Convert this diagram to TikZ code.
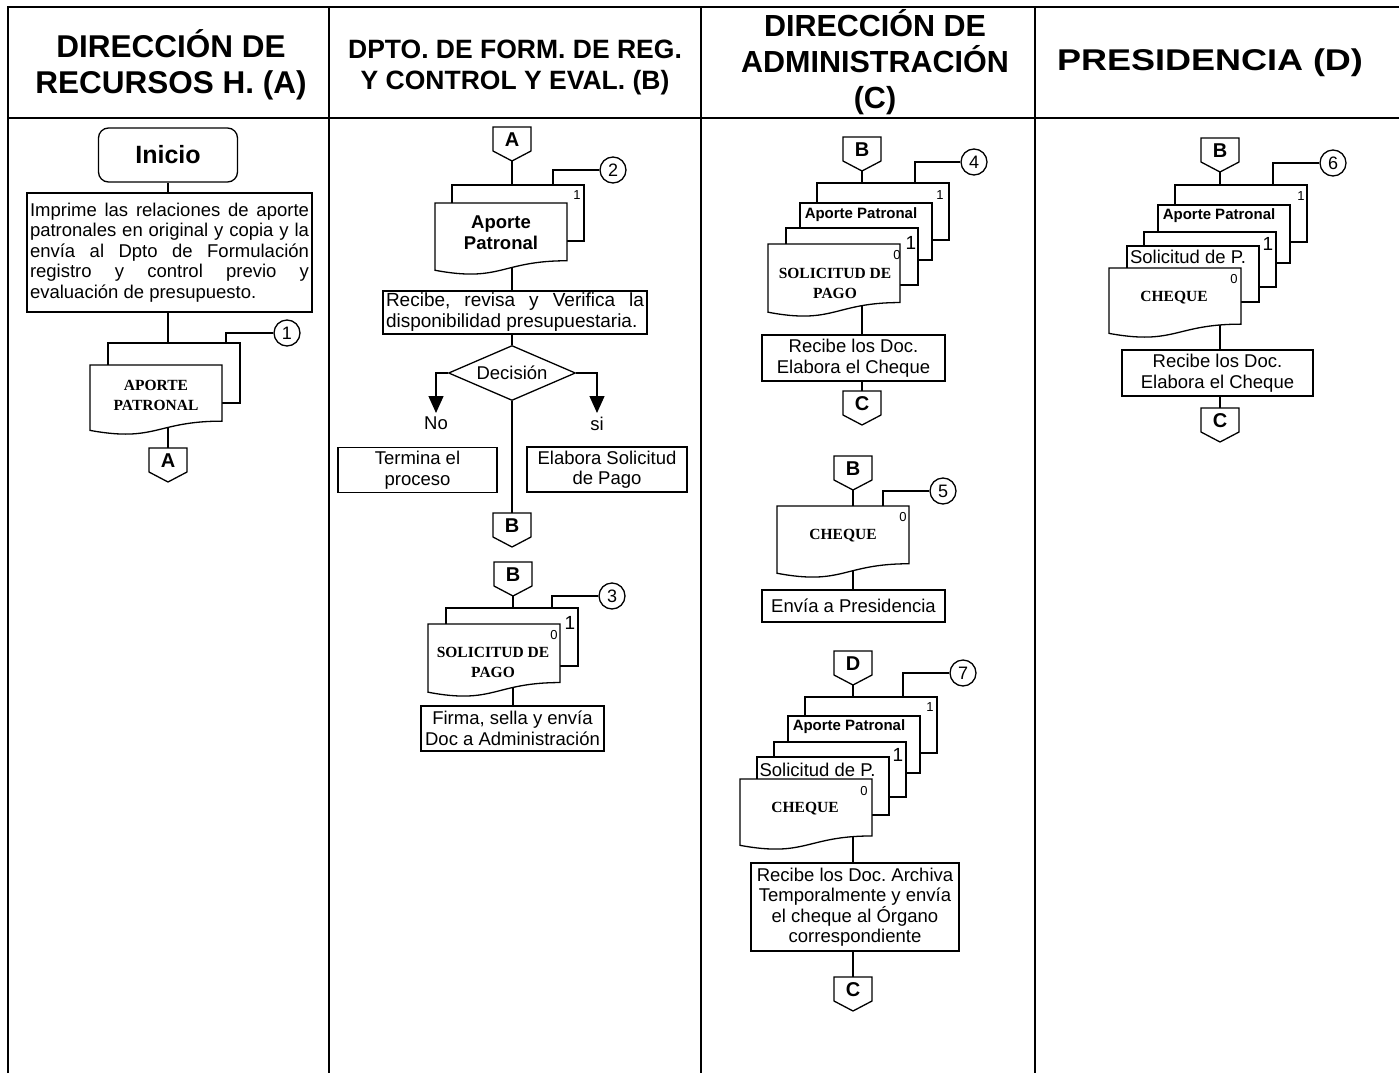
\documentclass[tikz,border=0pt]{standalone}
\usepackage{fontspec}
\setmainfont{Liberation Sans}
\newfontfamily\tnr{Liberation Serif}
\usetikzlibrary{shapes.geometric,arrows.meta,calc}
\pgfdeclarelayer{bg}
\pgfsetlayers{bg,main}
\frenchspacing
\newcommand\fz[2]{\fontsize{#1pt}{#2pt}\selectfont}
% off-page connector: name, x, ytop, letter
\newcommand\offpage[4]{%
  \draw[sl,fill=white] (#2-19,#3) -- (#2+19,#3) -- (#2+19,#3+24) -- (#2,#3+34) -- (#2-19,#3+24) -- cycle;
  \node[offtxt] (#1) at (#2,#3+12.5) {#4};
  \coordinate (#1-top) at (#2,#3);
  \coordinate (#1-tip) at (#2,#3+34);
}
% back document: name, x, y, h
\newcommand\backdoc[4]{%
  \node[bdoc, minimum height=#4pt] (#1) at (#2+66,#3+#4/2) {};
}
% front document with wavy bottom: name, x, y, h
\newcommand\frontdoc[4]{%
  \draw[sl,fill=white] (#2,#3) -- (#2+132,#3) -- (#2+132,#3+0.802*#4)
    .. controls (#2+66,#3+0.802*#4) and (#2+66,#3+1.107*#4) .. (#2,#3+0.934*#4) -- cycle;
  \node[fdoc, minimum height=#4pt] (#1) at (#2+66,#3+#4/2) {};
}
\begin{document}
\begin{tikzpicture}[x=1pt,y=-1pt,
  sl/.style={line width=1.3pt},
  tbl/.style={line width=2.8pt},
  box/.style={draw, sl, fill=white, inner sep=0pt, align=center, font=\fz{18.5}{20.5}},
  bdoc/.style={draw, sl, fill=white, inner sep=0pt, outer sep=0pt, minimum width=132pt},
  fdoc/.style={inner sep=0pt, outer sep=0pt, minimum width=132pt},
  offtxt/.style={font=\bfseries\fz{20}{22}, inner sep=0pt},
  circ/.style={draw, sl, circle, fill=white, minimum size=26pt, inner sep=0pt, font=\fz{18}{20}},
  numsm/.style={font=\fz{13}{14}, inner sep=0pt},
  numbig/.style={font=\fz{19}{20}, inner sep=0pt},
  serifb/.style={font=\tnr\bfseries\fz{15.5}{20}, align=center, inner sep=0pt},
  apb/.style={font=\bfseries\fz{15}{16}, inner sep=0pt},
  lbl/.style={font=\fz{18.5}{20}, inner sep=0pt},
  hdr/.style={font=\bfseries\fz{31.5}{36}, align=center, inner sep=0pt},
  arr/.style={sl, -{Triangle[width=15pt,length=17pt]}}
]
\useasboundingbox (0,0) rectangle (1399,1073);

% ---------- table ----------
\draw[tbl] (8,1073) -- (8,7) -- (1399,7);
\draw[tbl] (8,118) -- (1399,118);
\draw[tbl] (329,7) -- (329,1073);
\draw[tbl] (701,7) -- (701,1073);
\draw[tbl] (1035,7) -- (1035,1073);

\node[hdr] (hA) at (171,65) {DIRECCIÓN DE\\RECURSOS H. (A)};
\node[hdr, font=\bfseries\fz{26.5}{31}] (hB) at (515,67) {DPTO. DE FORM. DE REG.\\Y CONTROL Y EVAL. (B)};
\node[hdr, font=\bfseries\fz{30.5}{36}] (hC) at (875,62) {DIRECCIÓN DE\\ADMINISTRACIÓN\\(C)};
\node[hdr, font=\bfseries\fz{30}{36}] (hD) at (1210,63) {\scalebox{1.2}[1]{PRESIDENCIA (D)}};

% ---------- column A ----------
\node[box, rounded corners=10pt, minimum width=139pt, minimum height=54pt, font=\bfseries\fz{25}{28}] (inicio) at (168,155) {Inicio};
\node[box, align=justify, text width=279pt, inner xsep=3pt, minimum height=119pt] (boxA) at (169.5,252.5)
  {Imprime las relaciones de aporte\linebreak patronales en original y copia y la\linebreak envía al Dpto de Formulación\linebreak registro y control previo y\linebreak evaluación de presupuesto.};
\backdoc{backA}{108}{343}{60}
\frontdoc{frontA}{90}{365}{70}
\node[serifb] (tA) at (156,395) {APORTE\\PATRONAL};
\node[circ] (c1) at (287,333) {1};
\offpage{offA1}{168}{448}{A}

\draw[sl] (inicio.south) -- (inicio.south |- boxA.north);
\draw[sl] (boxA.south -| inicio.south) -- (inicio.south |- backA.north);
\draw[sl] (c1.west) -| ($(backA.north west)+(118,0)$);
\begin{pgfonlayer}{bg}
\draw[sl] (frontA.center -| offA1-top) -- (offA1-top);
\end{pgfonlayer}

% ---------- column B ----------
\offpage{offA2}{512}{127}{A}
\backdoc{backB1}{452}{185}{56}
\frontdoc{frontB1}{435}{203}{72}
\node[font=\bfseries\fz{18.5}{21}, align=center, inner sep=0pt] (tB1) at (501,233) {Aporte\\Patronal};
\node[numsm] (nB1) at (577,195) {1};
\node[circ] (c2) at (613,170) {2};
\node[box, align=justify, text width=258pt, inner xsep=3pt, minimum height=43pt, font=\fz{19}{21}] (box2) at (515,312.5)
  {Recibe, revisa y Verifica la\linebreak disponibilidad presupuestaria.};
\node[draw, sl, diamond, fill=white, minimum width=127pt, minimum height=55pt, shape aspect=2.3, inner sep=0pt, font=\fz{18.5}{20}] (dec) at (512,373) {Decisión};
\node[lbl, anchor=north, inner sep=4pt] (no) at (436,413) {No};
\node[lbl, anchor=north, inner sep=4pt] (si) at (597,413) {si};
\node[box, minimum width=159pt, minimum height=45pt] (termina) at (417.5,470) {Termina el\\proceso};
\node[box, minimum width=160pt, minimum height=45pt] (elabora) at (607,469.5) {Elabora Solicitud\\de Pago};
\offpage{offB1}{512}{513}{B}
\offpage{offB2}{513}{562}{B}
\backdoc{backB3}{446}{608}{58}
\frontdoc{frontB3}{428}{624}{73}
\node[serifb] (tB3) at (493,662) {SOLICITUD DE\\PAGO};
\node[numbig] (nB3a) at (570,623) {1};
\node[numsm] (nB3b) at (554,635) {0};
\node[circ] (c3) at (612,596) {3};
\node[box, minimum width=183pt, minimum height=45pt] (firma) at (512.5,728.5) {Firma, sella y envía\\Doc a Administración};

\draw[sl] (offA2-tip) -- (offA2-tip |- backB1.north);
\draw[sl] (c2.west) -| ($(backB1.north west)+(101,0)$);
\draw[sl] (box2.south -| dec.north) -- (dec.north);
\draw[arr] (dec.west) -| (no.north);
\draw[arr] (dec.east) -| (si.north);
\draw[sl] (dec.south) -- (offB1-top);
\draw[sl] (offB2-tip) -- (offB2-tip |- backB3.north);
\draw[sl] (c3.west) -| ($(backB3.north west)+(106,0)$);
\begin{pgfonlayer}{bg}
\draw[sl] (frontB1.center -| offA2-tip) -- (offA2-tip |- box2.north);
\draw[sl] (frontB3.center -| offB2-tip) -- (offB2-tip |- firma.north);
\end{pgfonlayer}

% ---------- column C, group 4 ----------
\offpage{offC1}{862}{137}{B}
\backdoc{backC4a}{817}{183}{57}
\backdoc{backC4b}{800}{203}{57}
\backdoc{backC4c}{786}{228}{57}
\frontdoc{frontC4}{768}{244}{73}
\node[numsm] (nC4a) at (940,195) {1};
\node[apb] (tC4b) at (861,215) {Aporte Patronal};
\node[numbig] (nC4c) at (911,243) {1};
\node[numsm] (nC4d) at (897,255) {0};
\node[serifb] (tC4) at (835,283) {SOLICITUD DE\\PAGO};
\node[circ] (c4) at (974,162) {4};
\node[box, minimum width=183pt, minimum height=46pt] (boxC4) at (853.5,358) {Recibe los Doc.\\Elabora el Cheque};
\offpage{offC2}{862}{391}{C}

\draw[sl] (offC1-tip) -- (offC1-tip |- backC4a.north);
\draw[sl] (c4.west) -| ($(backC4a.north west)+(98,0)$);
\draw[sl] (boxC4.south -| offC1-tip) -- (offC2-top);
\begin{pgfonlayer}{bg}
\draw[sl] (frontC4.center -| offC1-tip) -- (offC1-tip |- boxC4.north);
\end{pgfonlayer}

% ---------- column C, group 5 ----------
\offpage{offC3}{853}{456}{B}
\frontdoc{frontC5}{777}{506}{72}
\node[numsm] (nC5) at (903,517) {0};
\node[serifb] (tC5) at (843,536) {CHEQUE};
\node[circ] (c5) at (943,491) {5};
\node[box, minimum width=183pt, minimum height=32pt] (boxC5) at (853.5,606) {Envía a Presidencia};

\draw[sl] (offC3-tip) -- (offC3-tip |- frontC5.north);
\draw[sl] (c5.west) -| ($(frontC5.north west)+(106,0)$);
\begin{pgfonlayer}{bg}
\draw[sl] (frontC5.center -| offC3-tip) -- (offC3-tip |- boxC5.north);
\end{pgfonlayer}

% ---------- column C, group 7 ----------
\offpage{offC4}{853}{651}{D}
\backdoc{backC7a}{805}{697}{56}
\backdoc{backC7b}{788}{716}{57}
\backdoc{backC7c}{774}{742}{55}
\backdoc{backC7d}{757}{757}{58}
\frontdoc{frontC7}{740}{779}{71}
\node[numsm] (nC7a) at (930,707) {1};
\node[apb] (tC7b) at (849,727) {Aporte Patronal};
\node[numbig] (nC7c) at (898,755) {1};
\node[lbl] (tC7d) at (817.5,770) {Solicitud de P.};
\node[numsm] (nC7e) at (864,791) {0};
\node[serifb] (tC7) at (805,809) {CHEQUE};
\node[circ] (c7) at (963,673) {7};
\node[box, minimum width=208pt, minimum height=88pt] (boxC7) at (855,907)
  {Recibe los Doc. Archiva\\Temporalmente y envía\\el cheque al Órgano\\correspondiente};
\offpage{offC5}{853}{977}{C}

\draw[sl] (offC4-tip) -- (offC4-tip |- backC7a.north);
\draw[sl] (c7.west) -| ($(backC7a.north west)+(98,0)$);
\draw[sl] (boxC7.south -| offC4-tip) -- (offC5-top);
\begin{pgfonlayer}{bg}
\draw[sl] (frontC7.center -| offC4-tip) -- (offC4-tip |- boxC7.north);
\end{pgfonlayer}

% ---------- column D, group 6 ----------
\offpage{offD1}{1220}{138}{B}
\backdoc{backD6a}{1175}{185}{57}
\backdoc{backD6b}{1158}{205}{58}
\backdoc{backD6c}{1144}{232}{55}
\backdoc{backD6d}{1127}{246}{56}
\frontdoc{frontD6}{1109}{268}{70}
\node[numsm] (nD6a) at (1301,196) {1};
\node[apb] (tD6b) at (1219,216) {Aporte Patronal};
\node[numbig] (nD6c) at (1268,244) {1};
\node[lbl] (tD6d) at (1188,257) {Solicitud de P.};
\node[numsm] (nD6e) at (1234,279) {0};
\node[serifb] (tD6) at (1174,298) {CHEQUE};
\node[circ] (c6) at (1333,163) {6};
\node[box, minimum width=191pt, minimum height=46pt] (boxD6) at (1217.5,373) {Recibe los Doc.\\Elabora el Cheque};
\offpage{offD2}{1220}{408}{C}

\draw[sl] (offD1-tip) -- (offD1-tip |- backD6a.north);
\draw[sl] (c6.west) -| ($(backD6a.north west)+(98,0)$);
\draw[sl] (boxD6.south -| offD1-tip) -- (offD2-top);
\begin{pgfonlayer}{bg}
\draw[sl] (frontD6.center -| offD1-tip) -- (offD1-tip |- boxD6.north);
\end{pgfonlayer}
\end{tikzpicture}
\end{document}
